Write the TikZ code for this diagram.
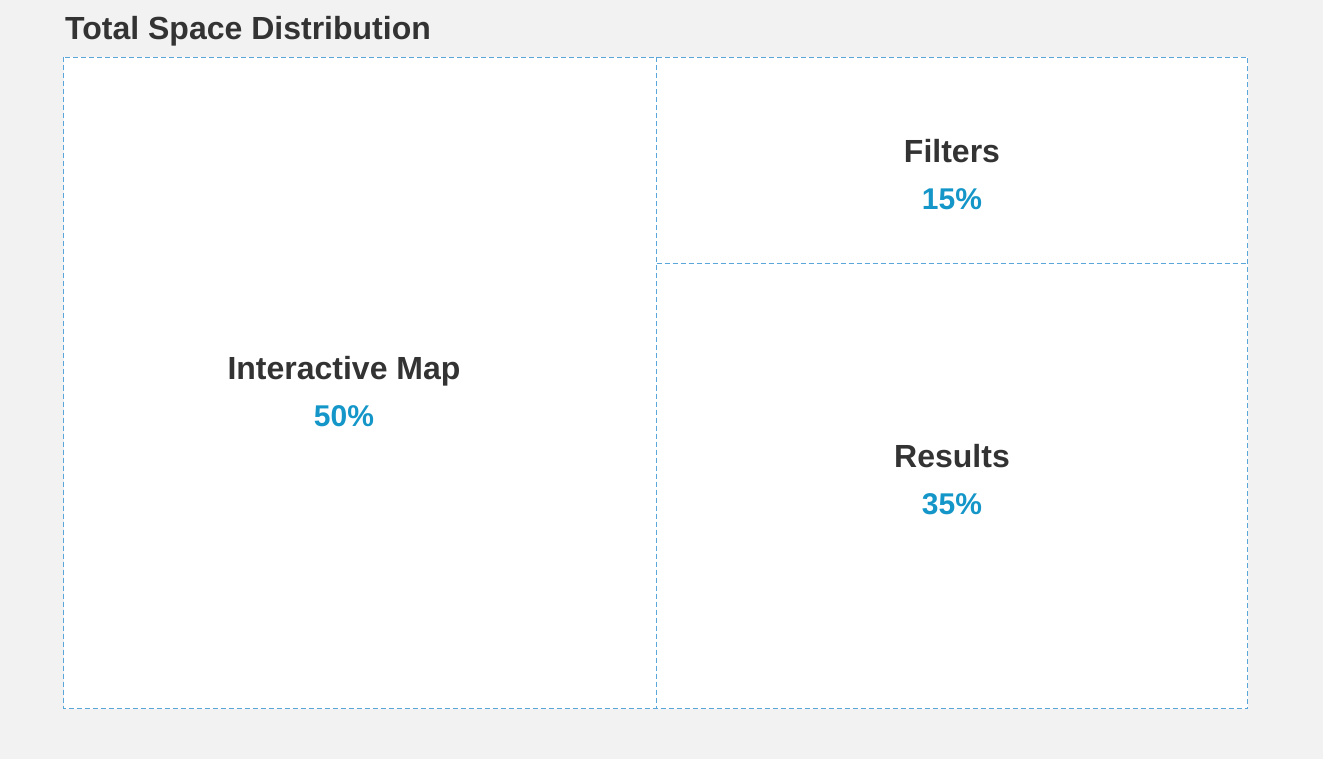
\documentclass[tikz,border=0pt]{standalone}
\usepackage{fontspec}
\setmainfont{Liberation Sans}
\definecolor{bg}{HTML}{F2F2F2}
\definecolor{dashc}{HTML}{5AA6D8}
\definecolor{txt}{HTML}{333333}
\definecolor{pct}{HTML}{1496C8}
\tikzset{
  cell/.style={draw=dashc, line width=1.1pt, dash pattern=on 5pt off 3pt, fill=white},
  divider/.style={draw=dashc, line width=1.1pt, dash pattern=on 5pt off 3pt},
  lbl/.style={anchor=base, inner sep=0pt, text=txt, font=\fontsize{32}{36}\selectfont\bfseries},
  val/.style={anchor=base, inner sep=0pt, text=pct, font=\fontsize{30}{34}\selectfont\bfseries},
}
\begin{document}
\begin{tikzpicture}[x=1pt,y=-1pt]
\fill[bg] (0,0) rectangle (1323,759);
\useasboundingbox (0,0) rectangle (1323,759);
\node[lbl, anchor=base west] (title) at (65,40) {Total Space Distribution};
\draw[cell] (63.5,57.5) rectangle (1247.5,708.5);
\coordinate (vtop) at (656.5,57.5);
\coordinate (vbot) at (656.5,708.5);
\coordinate (hl) at (656.5,263.5);
\coordinate (hr) at (1247.5,263.5);
\draw[divider] (vtop) -- (vbot);
\draw[divider] (hl) -- (hr);
\node[lbl] (map) at (344,379) {Interactive Map};
\node[val] (mapv) at (344,426) {50\%};
\node[lbl] (filt) at (952,163) {Filters};
\node[val] (filtv) at (952,210) {15\%};
\node[lbl] (res) at (952,467) {Results};
\node[val] (resv) at (952,514) {35\%};
\end{tikzpicture}
\end{document}
